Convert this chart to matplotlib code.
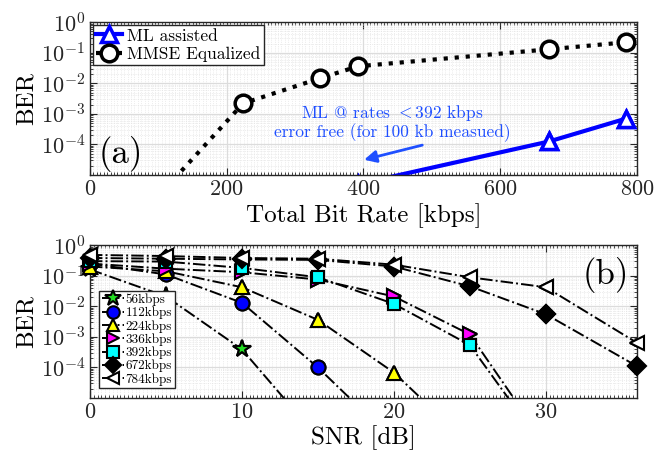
import numpy as np
import matplotlib
matplotlib.use('Agg')
import matplotlib.pyplot as plt
from matplotlib.ticker import MultipleLocator, LogLocator, NullFormatter

plt.rcParams['font.family'] = ['cmr10', 'DejaVu Serif']
plt.rcParams['mathtext.fontset'] = 'cm'
plt.rcParams['axes.formatter.use_mathtext'] = True
plt.rcParams['axes.unicode_minus'] = False

# ---- panel (a) data ----
rate_mmse = [112, 224, 336, 392, 672, 784]
ber_mmse = [4e-6, 2.2e-3, 1.45e-2, 3.6e-2, 0.13, 0.22]
rate_ml = [392, 672, 784]
ber_ml = [5e-6, 1.26e-4, 7e-4]

# ---- panel (b) data ----
snr = [0, 5, 10, 15, 20, 25, 30, 36]
labels_b = ['56kbps', '112kbps', '224kbps', '336kbps', '392kbps', '672kbps', '784kbps']
ber_56 = [0.16, 0.021, 3.9e-4, 5e-7]
ber_112 = [0.25, 0.11, 0.013, 1.0e-4, 4e-7]
ber_224 = [0.2, 0.14, 0.042, 3.6e-3, 6.8e-5, 3e-7]
ber_336 = [0.25, 0.17, 0.13, 0.075, 0.021, 1.2e-3, 3e-7]
ber_392 = [0.3, 0.29, 0.18, 0.089, 0.012, 5.4e-4, 2e-7]
ber_672 = [0.38, 0.36, 0.34, 0.33, 0.2, 0.045, 5.5e-3, 1.1e-4]
ber_784 = [0.48, 0.44, 0.38, 0.36, 0.23, 0.089, 0.042, 6.4e-4]
series_b = [ber_56, ber_112, ber_224, ber_336, ber_392, ber_672, ber_784]
markers_b = ['*', 'o', '^', '>', 's', 'D', '<']
colors_b = ['#22dd22', '#0000ff', '#ffff00', '#ff00ff', '#00ffff', 'black', 'white']
msize_b = [13, 10, 10, 10, 9, 9, 10]

fig = plt.figure(figsize=(6.55, 4.59), dpi=100)
ax1 = fig.add_axes([0.1374, 0.6187, 0.835, 0.333])
ax2 = fig.add_axes([0.1374, 0.1329, 0.835, 0.333])


def style_axis(ax):
    ax.set_yscale('log')
    ax.set_ylim(1e-5, 1)
    ax.set_yticks([1e-4, 1e-3, 1e-2, 1e-1, 1])
    ax.yaxis.set_minor_locator(LogLocator(base=10, subs=np.arange(2, 10), numticks=20))
    ax.yaxis.set_minor_formatter(NullFormatter())
    ax.grid(True, which='major', color='#dcdcdc', lw=0.9, ls='-')
    ax.grid(True, which='minor', color='#dedede', lw=0.5, ls=':')
    ax.set_axisbelow(True)
    ax.tick_params(which='both', direction='in', top=True, right=True, labelsize=16, colors='#262626')
    ax.tick_params(which='major', length=5)
    ax.tick_params(which='minor', length=2.5, width=0.6)
    for s in ax.spines.values():
        s.set_color('#262626')
        s.set_linewidth(1.0)


def in_range(x, y, ax):
    lo, hi = ax.get_ylim()
    pts = [(a, b) for a, b in zip(x, y) if lo <= b <= hi]
    return [p[0] for p in pts], [p[1] for p in pts]


# ---- panel (a) ----
style_axis(ax1)
ax1.set_xlim(0, 800)
ax1.plot(rate_ml, ber_ml, '-^', color='#0000ff', lw=3, ms=12, mfc='white', mew=2.5,
         label='ML assisted')
ax1.plot(rate_mmse, ber_mmse, ':o', color='black', lw=3, ms=12, mfc='white', mew=2.5,
         label='MMSE Equalized')
xm, ym = in_range(rate_ml, ber_ml, ax1)
ax1.plot(xm, ym, '^', color='#0000ff', ms=12, mfc='white', mew=2.5, clip_on=False, zorder=3)
ax1.set_xticks([0, 200, 400, 600, 800])
ax1.xaxis.set_minor_locator(MultipleLocator(5))
ax1.set_xlabel('Total Bit Rate [kbps]', fontsize=18, labelpad=3)
ax1.set_ylabel('BER', fontsize=18, labelpad=2)
leg1 = ax1.legend(loc='upper left', fontsize=12.5, handlelength=1.5, handletextpad=0.3,
                  borderpad=0.2, labelspacing=0.15, borderaxespad=0.15, fancybox=False,
                  framealpha=1, edgecolor='#262626')
leg1.get_frame().set_linewidth(1.0)
ax1.text(0.015, 0.08, '(a)', transform=ax1.transAxes, fontsize=25)
ax1.annotate('', xy=(397, 3e-5), xytext=(490, 1e-4),
             arrowprops=dict(arrowstyle='-|>', color='#1f4fff', lw=2, mutation_scale=18))
ax1.text(442, 5.2e-4, 'ML $@$ rates $<$392 kbps\nerror free (for 100 kb measued)',
         color='#1f4fff', fontsize=12.5, ha='center', va='center', linespacing=1.05)

# ---- panel (b) ----
style_axis(ax2)
ax2.set_xlim(0, 36)
for vals, lab, mk, col, ms in zip(series_b, labels_b, markers_b, colors_b, msize_b):
    xs = snr[:len(vals)]
    ax2.plot(xs, vals, '-.', marker=mk, color='black', mfc=col, mec='black',
             ms=ms, mew=1.5, lw=1.4, label=lab)
    xi, yi = in_range(xs, vals, ax2)
    ax2.plot(xi, yi, ls='none', marker=mk, mfc=col, mec='black', ms=ms, mew=1.5,
             clip_on=False, zorder=3)
ax2.set_xticks([0, 10, 20, 30])
ax2.xaxis.set_minor_locator(MultipleLocator(0.25))
ax2.set_xlabel('SNR [dB]', fontsize=18, labelpad=2)
ax2.set_ylabel('BER', fontsize=18, labelpad=2)
leg2 = ax2.legend(loc='lower left', bbox_to_anchor=(0.005, 0.02), fontsize=9.5,
                  handlelength=1.7, handletextpad=0.1, borderpad=0.2, labelspacing=0.05,
                  fancybox=False, framealpha=1, edgecolor='#262626', markerscale=0.9)
leg2.get_frame().set_linewidth(1.0)
ax2.text(0.985, 0.92, '(b)', transform=ax2.transAxes, fontsize=25, ha='right', va='top')

fig.savefig('out.png', dpi=100)
